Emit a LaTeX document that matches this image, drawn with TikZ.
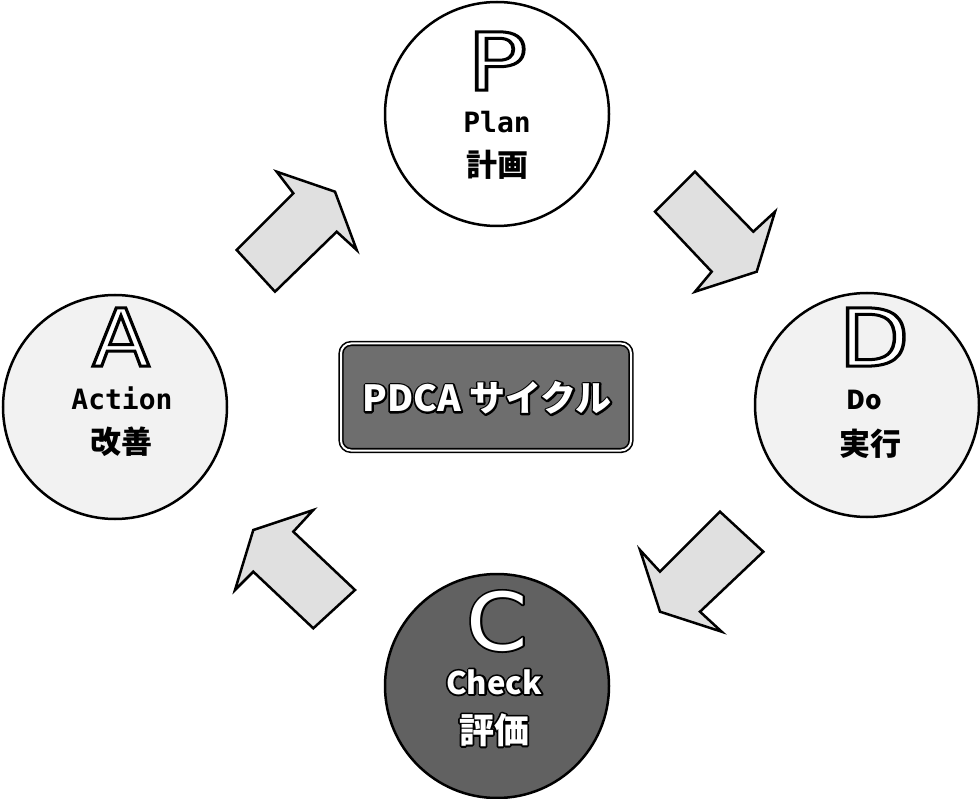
\documentclass[tikz,border=0pt]{standalone}
\usepackage{fontspec}
\setmainfont{Noto Sans CJK JP}
\newfontfamily\jpfont{Noto Sans CJK JP}
\newfontfamily\monofont{DejaVu Sans Mono}
\newfontfamily\bigfont{DejaVu Sans}
% hollow letters: white fill, black stroke (text render mode 2)
\newcommand\hollowtext[2]{\special{pdf:literal direct #1 w 2 Tr 1 g 0 G}#2\special{pdf:literal direct 0 Tr}}
% white letters with an outer black outline: stroked copy below, white copy on top
\newcommand\outlinedtext[2]{\leavevmode\rlap{\special{pdf:literal direct #1 w 1 Tr 0 G 1 j}#2\special{pdf:literal direct 0 Tr}}\textcolor{white}{#2}}
\begin{document}
\begin{tikzpicture}[x=1pt,y=-1pt,
  phase/.style={circle,draw,line width=2.5pt,minimum size=224pt,inner sep=0pt},
  blockarrow/.style={draw,line width=2.5pt,fill=black!12,line join=miter},
  bigletter/.style={inner sep=0pt,font=\bigfont\fontsize{80}{80}\selectfont},
  latinlabel/.style={inner sep=0pt,font=\monofont\bfseries\fontsize{28}{30}\selectfont},
  jplabel/.style={inner sep=0pt,font=\jpfont\bfseries\fontsize{31}{33}\selectfont},
]
\useasboundingbox (0,0) rectangle (980,799);
\fill[white] (0,0) rectangle (980,799);

% circles
\node[phase,fill=white]    (plan)  at (497,114) {};
\node[phase,fill=black!5]  (do)    at (867,405) {};
\node[phase,fill=black!62] (check) at (497,686) {};
\node[phase,fill=black!5]  (act)   at (115,407) {};

% centre box
\node[draw,double,double distance=2pt,line width=1.6pt,rounded corners=10pt,
      fill=black!57,minimum width=290pt,minimum height=107pt] (centre) at (486,397) {};
\node[inner sep=0pt,font=\jpfont\bfseries\fontsize{36}{38}\selectfont] (centretext) at (487,398)
  {\outlinedtext{3.6}{PDCA サイクル}};

% block arrows
\draw[blockarrow] (236.7,250) -- (293.3,193.3) -- (276.7,171.7) -- (335,191.7)
  -- (356.7,250) -- (336.7,231.7) -- (275,291.7) -- cycle;
\draw[blockarrow] (695,171.7) -- (753.3,231.7) -- (775,211.7) -- (756.7,271.7)
  -- (695,291.7) -- (711.7,271.7) -- (655,211.7) -- cycle;
\draw[blockarrow] (720,511.7) -- (660,571.7) -- (640,550) -- (660,611.7)
  -- (721.7,631.7) -- (700,611.7) -- (763.3,551.7) -- cycle;
\draw[blockarrow] (313.3,510) -- (293.3,531.7) -- (355,590) -- (313.3,628.3)
  -- (253.3,571.7) -- (235,590) -- (253.3,530) -- cycle;

% Plan
\node[bigletter] (pbig) at (497,61) {\scalebox{1.25}[1]{\hollowtext{3}{P}}};
\node[latinlabel] (pword) at (497,122) {Plan};
\node[jplabel] (pjp) at (497,165) {計画};

% Do
\node[bigletter] (dbig) at (874,337) {\scalebox{1.15}[1]{\hollowtext{3}{D}}};
\node[inner sep=0pt,font=\jpfont\bfseries\fontsize{26}{28}\selectfont] (dword) at (864,400) {Do};
\node[jplabel] (djp) at (870,444) {実行};

% Check
\node[bigletter] (cbig) at (497,621) {\scalebox{1.1}[1]{\outlinedtext{3.5}{C}}};
\node[inner sep=0pt,font=\jpfont\bfseries\fontsize{31}{33}\selectfont] (cword) at (494,682)
  {\outlinedtext{3.6}{Check}};
\node[inner sep=0pt,font=\jpfont\bfseries\fontsize{35}{37}\selectfont] (cjp) at (494,730)
  {\outlinedtext{3.6}{評価}};

% Action
\node[bigletter] (abig) at (121,337) {\scalebox{1.05}[1]{\hollowtext{3}{A}}};
\node[latinlabel] (aword) at (122,398) {Action};
\node[jplabel] (ajp) at (121,442) {改善};
\end{tikzpicture}
\end{document}
